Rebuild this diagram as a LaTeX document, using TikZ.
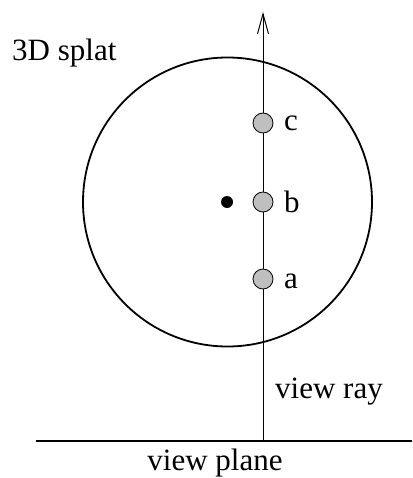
\documentclass[tikz,border=0pt]{standalone}
\usepackage{fontspec}
\setmainfont{Liberation Serif}
\usetikzlibrary{arrows.meta}
\begin{document}
\begin{tikzpicture}[x=1pt,y=-1pt,
  lbl/.style={inner sep=0pt,font=\fontsize{31}{36}\selectfont},
  sample/.style={circle,draw=black,line width=0.8pt,fill=black!25,minimum size=20pt,inner sep=0pt},
  centerdot/.style={circle,fill=black,minimum size=12pt,inner sep=0pt}]
\useasboundingbox (0,0) rectangle (412,478);
% splat
\node[circle,draw,line width=1.8pt,minimum size=289pt,inner sep=0pt] (splat) at (227.5,202) {};
% view plane
\coordinate (pl) at (36,441);
\coordinate (pr) at (412,441);
\draw[line width=2pt] (pl) -- (pr);
% view ray
\coordinate (rb) at (263,441);
\coordinate (rt) at (263,12);
\draw[line width=1pt,-{Straight Barb[length=20pt,width=11pt,line width=1pt]}] (rb) -- (rt);
% samples
\node[sample] (c) at (263,123) {};
\node[sample] (b) at (263,202) {};
\node[sample] (a) at (263,279) {};
\node[centerdot] (ctr) at (227,202) {};
% labels
\node[lbl,anchor=base west] (lc) at (284,131) {c};
\node[lbl,anchor=base west] (lb) at (284,212) {b};
\node[lbl,anchor=base west] (la) at (284,288) {a};
\node[lbl,anchor=base west] (l3d) at (12,61) {3D splat};
\node[lbl,anchor=base west] (lray) at (275,398) {view ray};
\node[lbl,anchor=base] (lplane) at (215,470) {view plane};
\end{tikzpicture}
\end{document}
